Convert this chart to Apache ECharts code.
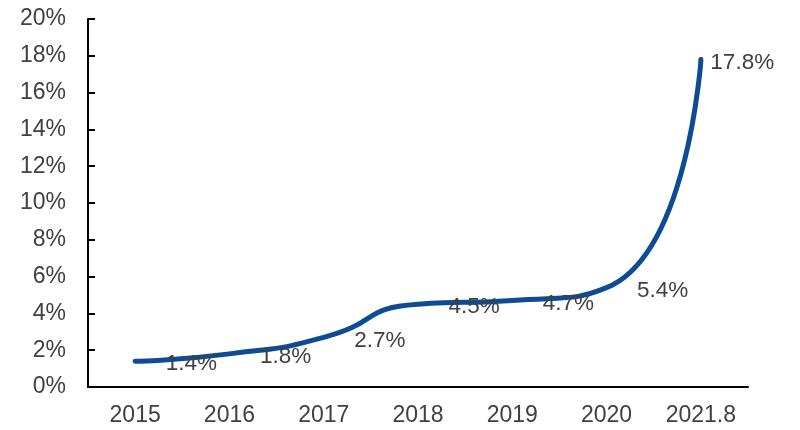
<!DOCTYPE html>
<html>
<head>
<meta charset="utf-8">
<script src="https://cdn.jsdelivr.net/npm/echarts@6/dist/echarts.min.js"></script>
<style>
  html, body { margin: 0; padding: 0; background: #fff; }
  #chart { width: 800px; height: 430px; }
</style>
</head>
<body>
<div id="chart"></div>
<script>
// 数据
var years = ['2015', '2016', '2017', '2018', '2019', '2020', '2021.8'];
var rates = [1.4, 1.8, 2.7, 4.5, 4.7, 5.4, 17.8];

var chart = echarts.init(document.getElementById('chart'));
var textColor = '#404040';
var fontFamily = '"Liberation Sans", Arial, sans-serif';

chart.setOption({
    animation: false,
    grid: { left: 88, right: 52, top: 19, bottom: 43 },
    xAxis: {
        type: 'category',
        data: years,
        boundaryGap: true,
        axisLine: { lineStyle: { color: '#000', width: 2 } },
        axisTick: { inside: true, length: 7, lineStyle: { color: '#000', width: 2 } },
        axisLabel: { color: textColor, fontSize: 23, fontFamily: fontFamily, margin: 17 }
    },
    yAxis: {
        type: 'value',
        min: 0,
        max: 20,
        interval: 2,
        axisLine: { show: true, lineStyle: { color: '#000', width: 2 } },
        axisTick: { show: true, inside: true, length: 7, lineStyle: { color: '#000', width: 2 } },
        splitLine: { show: false },
        axisLabel: {
            color: textColor, fontSize: 23, fontFamily: fontFamily, margin: 22,
            formatter: '{value}%'
        }
    },
    series: [{
        type: 'line',
        data: rates.map(function (v, i) {
            // 最后一个标签紧贴线端
            return i === rates.length - 1
                ? { value: v, label: { distance: 9 } }
                : v;
        }),
        smooth: 0.6,
        symbol: 'circle',
        symbolSize: 1,
        itemStyle: { color: 'rgba(0,0,0,0)' },
        lineStyle: { color: '#0D4C92', width: 5, cap: 'round' },
        label: {
            show: true,
            position: 'right',
            distance: 30,
            offset: [0, 3],
            color: textColor,
            fontSize: 22.5,
            fontFamily: fontFamily,
            formatter: function (p) { return p.value + '%'; }
        }
    }]
});
</script>
</body>
</html>
